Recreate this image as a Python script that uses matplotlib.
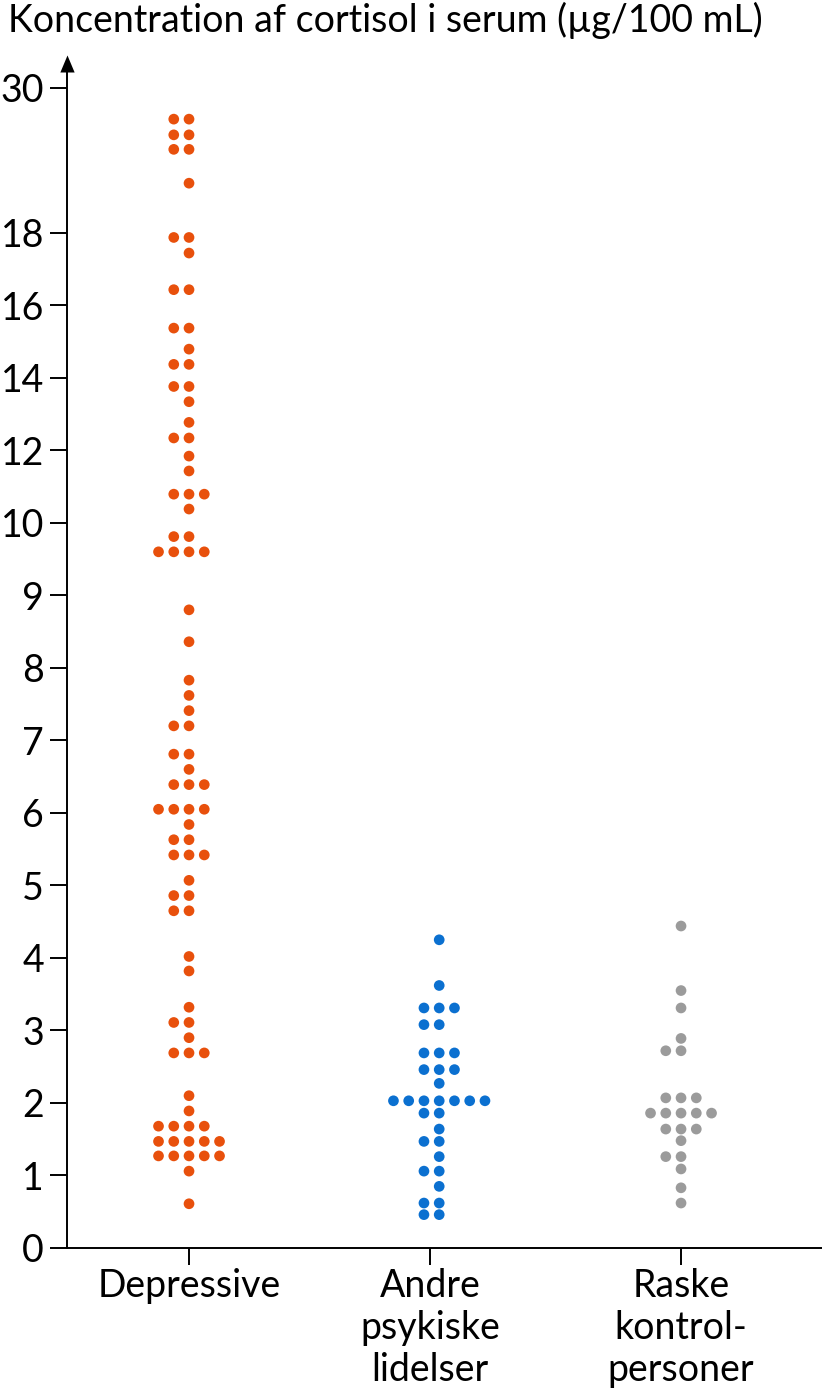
import numpy as np
import matplotlib
matplotlib.use('Agg')
import matplotlib.pyplot as plt

## Data: row levels (µg/100 mL) and number of dots in each row
groups = ['Depressive', 'Andre\npsykiske\nlidelser', 'Raske\nkontrol-\npersoner']

dep_levels = [27.4, 26.1, 24.9, 22.1, 17.87, 17.44, 16.43, 15.37, 14.79, 14.37,
              13.76, 13.34, 12.77, 12.34, 11.84, 11.43, 10.79, 10.38, 9.81, 9.6,
              8.8, 8.36, 7.83, 7.62, 7.41, 7.2, 6.81, 6.6, 6.39, 6.05,
              5.84, 5.63, 5.42, 5.07, 4.86, 4.65, 4.02, 3.82, 3.32, 3.11,
              2.9, 2.69, 2.1, 1.89, 1.68, 1.47, 1.27, 1.06, 0.61]
dep_counts = [2, 2, 2, 1, 2, 1, 2, 2, 1, 2,
              2, 1, 1, 2, 1, 1, 3, 1, 2, 4,
              1, 1, 1, 1, 1, 2, 2, 1, 3, 4,
              1, 2, 3, 1, 2, 2, 1, 1, 1, 2,
              1, 3, 1, 1, 4, 5, 5, 1, 1]

andre_levels = [4.25, 3.62, 3.31, 3.08, 2.69, 2.46, 2.27, 2.03,
                1.86, 1.64, 1.47, 1.26, 1.06, 0.85, 0.62, 0.46]
andre_counts = [1, 1, 3, 2, 3, 3, 1, 7, 2, 1, 2, 1, 2, 1, 2, 2]

raske_levels = [4.44, 3.55, 3.31, 2.89, 2.72, 2.07, 1.86, 1.64,
                1.48, 1.26, 1.09, 0.83, 0.62]
raske_counts = [1, 1, 1, 1, 2, 3, 5, 3, 1, 2, 1, 1, 1]

yticks = [0, 1, 2, 3, 4, 5, 6, 7, 8, 9, 10, 12, 14, 16, 18, 30]

colors = ['#E8500C', '#0B70D0', '#9B9B9B']

# layout
group_x = [0, 0.98, 2]       # tick positions
centre_shift = [0, 0.037, 0]  # blue swarm sits a bit right of its tick
dx = 0.062                    # horizontal step between dots in a row

## piecewise axis: 1 unit up to 10, 2 units 10-18, 12 units 18-30
def fwd(v):
    v = np.asarray(v, dtype=float)
    return np.where(v <= 10, v,
                    np.where(v <= 18, 10 + (v - 10) / 2, 14 + (v - 18) / 6))

def inv(d):
    d = np.asarray(d, dtype=float)
    return np.where(d <= 10, d,
                    np.where(d <= 14, 10 + (d - 10) * 2, 18 + (d - 14) * 6))

plt.rcParams['font.family'] = ['Lato', 'DejaVu Sans']

fig = plt.figure(figsize=(8.22, 14), dpi=100)
ax = fig.add_axes([67/822, 152/1400, 755/822, 1176/1400])
ax.set_yscale('function', functions=(fwd, inv))

all_levels = [dep_levels, andre_levels, raske_levels]
all_counts = [dep_counts, andre_counts, raske_counts]
for i in range(3):
    xs, ys = [], []
    for lev, n in zip(all_levels[i], all_counts[i]):
        offs = np.arange(n) - n // 2
        xs += list(group_x[i] + centre_shift[i] + offs * dx)
        ys += [lev] * n
    ax.scatter(xs, ys, s=7.7**2, color=colors[i], edgecolors='none', zorder=3)

ax.set_xlim(-0.496, 2.573)
ax.set_ylim(0, 31.3)

for s in ['top', 'right']:
    ax.spines[s].set_visible(False)
for s in ['left', 'bottom']:
    ax.spines[s].set_linewidth(1.4)

ax.set_yticks(yticks)
ax.set_yticklabels([str(t) for t in yticks])
ax.yaxis.set_minor_locator(matplotlib.ticker.NullLocator())
ax.set_xticks(group_x)
ax.set_xticklabels(groups, linespacing=1.2)
ax.tick_params(axis='both', direction='out', length=12.5, width=1.4,
               labelsize=27, color='black')
ax.tick_params(axis='y', pad=4)
ax.tick_params(axis='x', pad=2)

# arrow head on top of the y axis
ax.plot([0], [1], transform=ax.transAxes, clip_on=False, color='black',
        marker=[(0, 0), (-0.42, 0), (0, 1), (0.42, 0), (0, 0)],
        markersize=24.5, markeredgewidth=0, zorder=5)

fig.text(8/822, 1 - 32/1400, 'Koncentration af cortisol i serum (µg/100 mL)',
         fontsize=27, ha='left', va='baseline')

fig.savefig('out.png', dpi=100)
